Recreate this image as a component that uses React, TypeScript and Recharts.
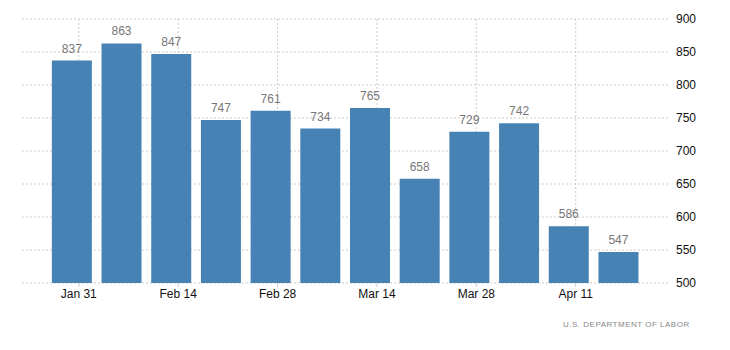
import { BarChart, Bar, XAxis, YAxis, CartesianGrid, LabelList } from "recharts";

// weeks ending (days after Jan 30)
const weekDays = [0, 7, 14, 21, 28, 35, 42, 49, 56, 63, 70, 77];
const claims = [837, 863, 847, 747, 761, 734, 765, 658, 729, 742, 586, 547];
const tickDays = [1, 15, 29, 43, 57, 71];
const tickLabels = ["Jan 31", "Feb 14", "Feb 28", "Mar 14", "Mar 28", "Apr 11"];
const yTicks = [500, 550, 600, 650, 700, 750, 800, 850, 900];
const xDomain = [-7, 84];

const data = weekDays.map((d, i) => ({ day: d, value: claims[i] }));

const font = "'Liberation Sans', Arial, sans-serif";

export default function App() {
  return (
    <div style={{ position: "absolute", left: 0, top: 0, width: 730, height: 350, fontFamily: font }}>
      <BarChart width={730} height={350} data={data} margin={{ top: 19, right: 0, left: 22, bottom: 37 }}>
        <CartesianGrid
          stroke="#cccccc"
          strokeDasharray="2 2"
          verticalCoordinatesGenerator={({ offset }: any) =>
            tickDays.map((d) => offset.left + ((d - xDomain[0]) / (xDomain[1] - xDomain[0])) * offset.width)
          }
        />
        <XAxis
          dataKey="day"
          type="number"
          domain={xDomain}
          ticks={tickDays}
          tickFormatter={(v: number) => tickLabels[tickDays.indexOf(v)] ?? ""}
          axisLine={false}
          tickLine={{ stroke: "#cccccc" }}
          tickSize={4}
          height={30}
          tick={{ fontSize: 12, fill: "#111111", fontFamily: font }}
        />
        <YAxis
          orientation="right"
          domain={[500, 900]}
          ticks={yTicks}
          axisLine={false}
          tickLine={false}
          width={62}
          tickMargin={2}
          tick={{ fontSize: 12, fill: "#111111", fontFamily: font, textAnchor: "start" }}
        />
        <Bar dataKey="value" fill="#4682b4" barSize={40} isAnimationActive={false}>
          <LabelList dataKey="value" position="top" offset={8} fill="#777777" fontSize={12} fontFamily={font} />
        </Bar>
      </BarChart>
      <div
        style={{
          position: "absolute",
          left: 563,
          top: 320,
          fontSize: 8,
          letterSpacing: 0.5,
          color: "#888888",
          fontFamily: font,
        }}
      >
        U.S. DEPARTMENT OF LABOR
      </div>
    </div>
  );
}
